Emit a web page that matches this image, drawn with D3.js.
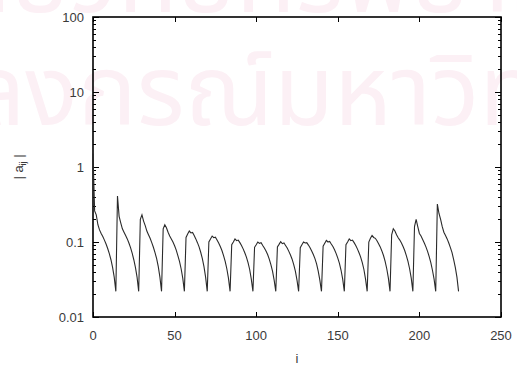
<!DOCTYPE html>
<meta charset="utf-8">
<style>
 body { margin: 0; background: #fff; }
 .tick-label { font-family: "Liberation Sans", Arial, sans-serif; font-size: 13px; fill: #3a3a3a; }
 .axis-title { font-family: "Liberation Sans", Arial, sans-serif; font-size: 13px; fill: #3a3a3a; }
 .watermark { font-family: "Noto Sans Thai", "Noto Sans", sans-serif; fill: #fcf0f5; }
</style>
<body>
<script src="https://cdn.jsdelivr.net/npm/d3@7"></script>
<script>

var width = 517, height = 365;
var margin = {top: 17, right: 16, bottom: 48, left: 93};

var xTicks = [0, 50, 100, 150, 200, 250];
var yTicks = [0.01, 0.1, 1, 10, 100];
var yTickLabels = ["0.01", "0.1", "1", "10", "100"];

// |a_ij|, i = 0 .. 224 (one row per sawtooth)
var aij = [1.5,
  0.26, 0.23, 0.17, 0.145, 0.13, 0.118, 0.106, 0.094, 0.082, 0.07, 0.058, 0.046, 0.034, 0.022,
  0.41, 0.22, 0.18, 0.15, 0.135, 0.122, 0.11, 0.097, 0.084, 0.071, 0.058, 0.046, 0.034, 0.022,
  0.2, 0.23, 0.19, 0.165, 0.14, 0.125, 0.112, 0.098, 0.085, 0.072, 0.06, 0.047, 0.034, 0.022,
  0.15, 0.17, 0.155, 0.135, 0.12, 0.11, 0.1, 0.089, 0.078, 0.066, 0.055, 0.044, 0.033, 0.022,
  0.115, 0.128, 0.14, 0.132, 0.134, 0.122, 0.11, 0.098, 0.086, 0.073, 0.06, 0.047, 0.034, 0.022,
  0.1, 0.11, 0.12, 0.114, 0.116, 0.106, 0.097, 0.087, 0.077, 0.066, 0.055, 0.044, 0.033, 0.022,
  0.092, 0.1, 0.11, 0.104, 0.106, 0.098, 0.09, 0.081, 0.072, 0.063, 0.053, 0.043, 0.032, 0.022,
  0.085, 0.092, 0.1, 0.096, 0.098, 0.09, 0.083, 0.076, 0.068, 0.059, 0.05, 0.041, 0.031, 0.022,
  0.086, 0.093, 0.101, 0.095, 0.097, 0.09, 0.083, 0.075, 0.067, 0.059, 0.05, 0.041, 0.031, 0.022,
  0.084, 0.092, 0.1, 0.097, 0.098, 0.091, 0.084, 0.076, 0.068, 0.06, 0.051, 0.041, 0.031, 0.022,
  0.088, 0.096, 0.105, 0.1, 0.102, 0.094, 0.087, 0.079, 0.07, 0.061, 0.052, 0.042, 0.032, 0.022,
  0.092, 0.1, 0.11, 0.104, 0.106, 0.098, 0.09, 0.081, 0.072, 0.063, 0.053, 0.043, 0.032, 0.022,
  0.1, 0.112, 0.122, 0.115, 0.112, 0.104, 0.095, 0.086, 0.076, 0.066, 0.055, 0.044, 0.033, 0.022,
  0.125, 0.15, 0.14, 0.125, 0.114, 0.106, 0.097, 0.087, 0.077, 0.066, 0.055, 0.044, 0.033, 0.022,
  0.16, 0.2, 0.16, 0.13, 0.12, 0.108, 0.097, 0.086, 0.075, 0.064, 0.053, 0.042, 0.032, 0.022,
  0.32, 0.24, 0.2, 0.16, 0.135, 0.122, 0.11, 0.097, 0.084, 0.072, 0.058, 0.046, 0.034, 0.022
];

var watermarkLines = ["ศูนย์วิทยทรัพยากร", "จุฬาลงกรณ์มหาวิทยาลัย"];

var svg = d3.select("body")
  .append("svg")
  .attr("width", width)
  .attr("height", height);

// faint watermark behind everything
svg.append("text")
  .attr("class", "watermark")
  .attr("x", -110).attr("y", 12)
  .attr("font-size", 98)
  .text(watermarkLines[0]);
svg.append("text")
  .attr("class", "watermark")
  .attr("x", -188).attr("y", 125)
  .attr("font-size", 98)
  .text(watermarkLines[1]);

var x = d3.scaleLinear().domain([0, 250]).range([margin.left, width - margin.right]);
var y = d3.scaleLog().domain([0.01, 100]).range([height - margin.bottom, margin.top]);

var x0 = x.range()[0], x1 = x.range()[1], y0 = y.range()[0], y1 = y.range()[1];

// minor ticks for log axis
var minor = [];
yTicks.slice(0, -1).forEach(function (d) {
  for (var m = 2; m <= 9; m++) minor.push(d * m);
});

var ticks = svg.append("g").attr("stroke", "#000").attr("stroke-width", 1);

ticks.selectAll(".ym").data(minor).enter().append("path")
  .attr("d", function (d) { var yy = Math.round(y(d)) + 0.5; return "M" + x0 + "," + yy + "h3M" + x1 + "," + yy + "h-3"; });
ticks.selectAll(".yM").data(yTicks).enter().append("path")
  .attr("d", function (d) { var yy = Math.round(y(d)) + 0.5; return "M" + x0 + "," + yy + "h6M" + x1 + "," + yy + "h-6"; });
ticks.selectAll(".xM").data(xTicks).enter().append("path")
  .attr("d", function (d) { var xx = Math.round(x(d)) + 0.5; return "M" + xx + "," + y0 + "v-5M" + xx + "," + y1 + "v5"; });

// frame
svg.append("rect")
  .attr("x", x0).attr("y", y1)
  .attr("width", x1 - x0).attr("height", y0 - y1)
  .attr("fill", "none").attr("stroke", "#000").attr("stroke-width", 1.6);

// tick labels
svg.selectAll(".ylab").data(yTicks).enter().append("text")
  .attr("class", "tick-label")
  .attr("x", x0 - 9)
  .attr("y", function (d) { return y(d) + 4.5; })
  .attr("text-anchor", "end")
  .text(function (d, i) { return yTickLabels[i]; });

svg.selectAll(".xlab").data(xTicks).enter().append("text")
  .attr("class", "tick-label")
  .attr("x", function (d) { return x(d); })
  .attr("y", y0 + 23)
  .attr("text-anchor", "middle")
  .text(function (d) { return d; });

// axis titles
svg.append("text")
  .attr("class", "axis-title")
  .attr("x", (x0 + x1) / 2)
  .attr("y", height - 2)
  .attr("text-anchor", "middle")
  .text("i");

var yt = svg.append("text")
  .attr("class", "axis-title")
  .attr("transform", "translate(23," + ((y0 + y1) / 2) + ") rotate(-90)")
  .attr("text-anchor", "middle");
yt.append("tspan").text("| a");
yt.append("tspan").attr("font-size", 9).attr("dy", 3).text("ij");
yt.append("tspan").attr("dy", -3).text(" |");

// the curve
var line = d3.line()
  .x(function (d, i) { return x(i); })
  .y(function (d) { return y(d); });

svg.append("path")
  .datum(aij)
  .attr("fill", "none")
  .attr("stroke", "#2a2a2a")
  .attr("stroke-width", 1.1)
  .attr("d", line);

</script>
</body>
